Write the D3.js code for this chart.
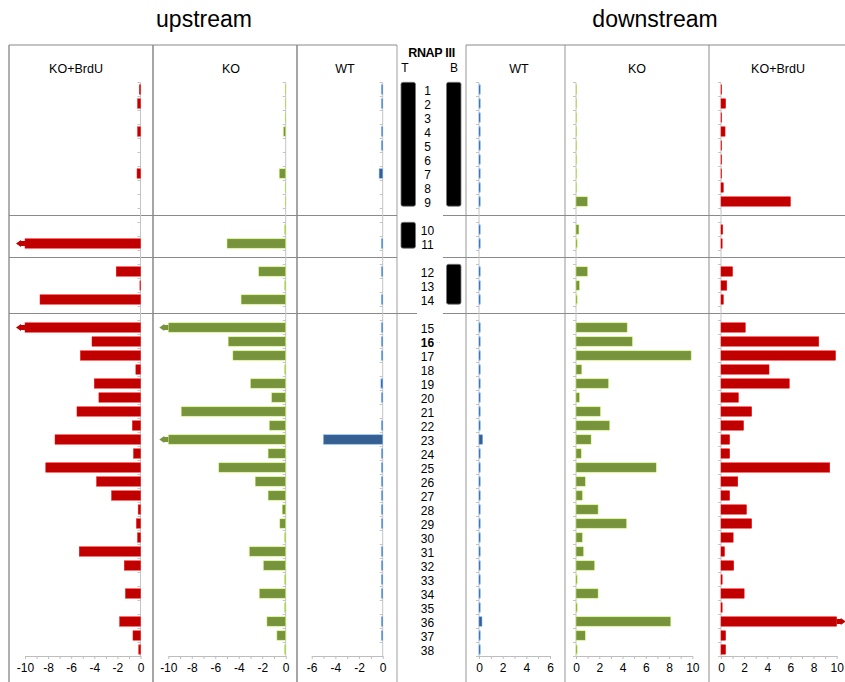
<!DOCTYPE html>
<html>
<head>
<meta charset="utf-8">
<script src="https://cdn.jsdelivr.net/npm/d3@7"></script>
<style>
  body { margin: 0; background: #fff; }
  svg { font-family: "Liberation Sans", Arial, sans-serif; }
</style>
</head>
<body>
<svg id="chart" width="845" height="682"></svg>
<script>
// row categories (with empty slots between the groups)
var rowKeys = ["1","2","3","4","5","6","7","8","9","g1","10","11","g2","12","13","14","g3",
  "15","16","17","18","19","20","21","22","23","24","25","26","27","28","29","30",
  "31","32","33","34","35","36","37","38"];
var rows = rowKeys.filter(function(k) { return k[0] != "g"; });

// values per row 1..38 (|value| > axis max means clipped bar with arrow)
var upKOBrdU = [-0.1,-0.25,0,-0.25,0,0,-0.3,0,0, 0,-11, -2.1,-0.05,-8.7,
  -11,-4.2,-5.2,-0.4,-4.0,-3.6,-5.5,-0.7,-7.4,-0.6,-8.2,-3.8,-2.5,-0.2,-0.35,-0.25,
  -5.3,-1.4,0,-1.3,0,-1.8,-0.65,-0.15];
var upKO = [-0.05,-0.05,-0.05,-0.2,0,0,-0.55,-0.05,-0.05, -0.1,-5.0, -2.3,-0.1,-3.8,
  -11,-4.9,-4.5,-0.1,-3.0,-1.2,-8.9,-1.4,-11,-1.5,-5.7,-2.6,-1.5,-0.3,-0.5,-0.1,
  -3.1,-1.9,-0.1,-2.25,-0.1,-1.6,-0.75,-0.1];
var upWT = [-0.1,-0.1,0,-0.1,-0.1,0,-0.3,0,0, 0,-0.1, -0.1,0,-0.1,
  -0.1,-0.1,-0.1,0,-0.15,-0.1,0,-0.1,-5.0,-0.1,-0.1,-0.1,-0.1,-0.1,-0.1,0,
  -0.1,-0.1,-0.1,-0.1,0,-0.1,-0.1,0];
var dnWT = [0.1,0.1,0.1,0.1,0.1,0.1,0.1,0.1,0.1, 0.1,0.1, 0.1,0.1,0.1,
  0.1,0.1,0.1,0.1,0.1,0.1,0.1,0.1,0.3,0.1,0.1,0.1,0.1,0.1,0.1,0.1,
  0.1,0.1,0.1,0.1,0.1,0.25,0.1,0.1];
var dnKO = [0.05,0.05,0.05,0.05,0.05,0.05,0.05,0.05,1.0, 0.25,0.1, 1.0,0.3,0.1,
  4.4,4.85,9.9,0.5,2.8,0.3,2.1,2.9,1.3,0.45,6.9,0.8,0.55,1.9,4.35,0.55,
  0.65,1.6,0.1,1.9,0.1,8.15,0.8,0.1];
var dnKOBrdU = [0.05,0.4,0.05,0.35,0.05,0.05,0.05,0.2,6.0, 0.15,0.1, 1.0,0.5,0.2,
  2.1,8.45,9.9,4.15,5.9,1.5,2.65,1.95,0.75,0.75,9.4,1.45,0.75,2.2,2.65,1.05,
  0.3,1.1,0.1,2.0,0.1,11,0.4,0.4];

// RNAP III occupancy blocks (row ranges)
var rnapT = [["1","9"], ["10","11"]];
var rnapB = [["1","9"], ["12","14"]];

var red = "#c00000", green = "#77933c", blue = "#376092";

var panels = [
  { title: "KO+BrdU", values: upKOBrdU, color: red,   domain: [-10, 0], range: [25, 140.5],  tx: 76 },
  { title: "KO",      values: upKO,     color: green, domain: [-10, 0], range: [168.3, 285.7], tx: 231 },
  { title: "WT",      values: upWT,     color: blue,  domain: [-6, 0],  range: [311.7, 382.7], tx: 345 },
  { title: "WT",      values: dnWT,     color: blue,  domain: [0, 6],   range: [479, 550],   tx: 519 },
  { title: "KO",      values: dnKO,     color: green, domain: [0, 10],  range: [576, 692.3], tx: 637 },
  { title: "KO+BrdU", values: dnKOBrdU, color: red,   domain: [0, 10],  range: [721, 836.7], tx: 778 }
];

var svg = d3.select("#chart");

var y = d3.scaleBand()
  .domain(rowKeys)
  .range([82.5, 656.5])
  .paddingInner(0.33)
  .paddingOuter(0.165);
var axisY = 656;

// frame lines
var frame = svg.append("g").attr("class", "frame");
[[9, "#7a7a7a"], [153, "#6a6a6a"], [297, "#6a6a6a"], [397, "#b0b0b0"],
 [466, "#a8a8a8"], [565, "#a8a8a8"], [709, "#a0a0a0"]].forEach(function(v) {
  frame.append("line").attr("x1", v[0]).attr("x2", v[0]).attr("y1", 45).attr("y2", 682)
    .attr("stroke", v[1]).attr("stroke-width", 1.2);
});
[[9, 397], [466, 845]].forEach(function(s) {
  frame.append("line").attr("x1", s[0]).attr("x2", s[1]).attr("y1", 45).attr("y2", 45)
    .attr("stroke", "#8a8a8a").attr("stroke-width", 1.2);
});
// separators between row groups
[["g1", 397], ["g2", 397], ["g3", 417]].forEach(function(s) {
  var yy = y(s[0]) + y.bandwidth() / 2;
  [[9, s[1]], [443, 845]].forEach(function(seg) {
    frame.append("line").attr("x1", seg[0]).attr("x2", seg[1]).attr("y1", yy).attr("y2", yy)
      .attr("stroke", "#8a8a8a").attr("stroke-width", 1.2);
  });
});

// titles
svg.append("text").attr("x", 204).attr("y", 27).attr("text-anchor", "middle")
  .style("font-size", "23px").text("upstream");
svg.append("text").attr("x", 655).attr("y", 27).attr("text-anchor", "middle")
  .style("font-size", "23px").text("downstream");

// panels
panels.forEach(function(p) {
  var x = d3.scaleLinear().domain(p.domain).range(p.range);
  var g = svg.append("g");
  var lo = p.domain[0], hi = p.domain[1];

  g.append("text").attr("x", p.tx).attr("y", 73).attr("text-anchor", "middle")
    .style("font-size", "12.5px").text(p.title);

  // zero axis with ticks at slot boundaries
  var x0 = x(0);
  g.append("line").attr("x1", x0).attr("x2", x0).attr("y1", y.range()[0]).attr("y2", axisY)
    .attr("stroke", "#c4c4c4").attr("stroke-width", 1);
  g.selectAll(".yt").data(rowKeys.concat(["end"])).enter().append("line")
    .attr("x1", x0 - 3).attr("x2", x0)
    .attr("y1", function(d, i) { return y.range()[0] + i * y.step(); })
    .attr("y2", function(d, i) { return y.range()[0] + i * y.step(); })
    .attr("stroke", "#c4c4c4");

  // bars
  var data = rows.map(function(r, i) { return { row: r, v: p.values[i] }; });
  g.selectAll("rect.bar").data(data).enter().append("rect")
    .attr("class", "bar")
    .attr("x", function(d) { return Math.min(x(0), x(Math.max(lo, Math.min(hi, d.v)))); })
    .attr("width", function(d) { return Math.abs(x(Math.max(lo, Math.min(hi, d.v))) - x(0)); })
    .attr("y", function(d) { return y(d.row); })
    .attr("height", y.bandwidth())
    .attr("fill", p.color)
    .attr("stroke", d3.color(p.color).brighter(1.6))
    .attr("stroke-width", 0.5);

  // arrows for clipped bars
  g.selectAll("path.arrow").data(data.filter(function(d) { return d.v < lo || d.v > hi; }))
    .enter().append("path")
    .attr("fill", p.color)
    .attr("d", function(d) {
      var s = d.v < lo ? -1 : 1;
      var xe = x(d.v < lo ? lo : hi);
      var yc = y(d.row) + y.bandwidth() / 2;
      return "M" + xe + "," + (yc - 2.5) + "L" + (xe + s * 4) + "," + (yc - 2.5) +
        "L" + (xe + s * 4) + "," + (yc - 3.5) + "L" + (xe + s * 9) + "," + yc +
        "L" + (xe + s * 4) + "," + (yc + 3.5) + "L" + (xe + s * 4) + "," + (yc + 2.5) +
        "L" + xe + "," + (yc + 2.5) + "Z";
    });

  // x axis
  var axis = d3.axisBottom(x)
    .tickValues(d3.range(lo, hi + 1, 1))
    .tickSize(3)
    .tickSizeOuter(0)
    .tickFormat(function(d) { return d % 2 === 0 ? String(d) : ""; });
  var ax = g.append("g").attr("transform", "translate(0," + axisY + ")").call(axis);
  ax.select(".domain").attr("stroke", "#bdbdbd");
  ax.selectAll(".tick line").attr("stroke", "#bdbdbd");
  ax.selectAll(".tick text").attr("fill", "#000").attr("dy", "0")
    .attr("y", 16).style("font-size", "12px")
    .style("font-family", "'Liberation Sans', Arial, sans-serif");
});

// RNAP III column
svg.append("text").attr("x", 431.5).attr("y", 57).attr("text-anchor", "middle")
  .style("font-size", "12.5px").style("font-weight", "bold").style("letter-spacing", "-0.3px")
  .text("RNAP III");
svg.append("text").attr("x", 405).attr("y", 72).attr("text-anchor", "middle")
  .style("font-size", "12px").text("T");
svg.append("text").attr("x", 454).attr("y", 72).attr("text-anchor", "middle")
  .style("font-size", "12px").text("B");

function drawBlocks(list, x1, x2) {
  svg.append("g").selectAll("rect").data(list).enter().append("rect")
    .attr("x", x1).attr("width", x2 - x1)
    .attr("y", function(d) { return y(d[0]) - 2.5; })
    .attr("height", function(d) { return y(d[1]) + y.bandwidth() - y(d[0]) + 2.5; })
    .attr("rx", 2).attr("fill", "#000").attr("stroke", "#777").attr("stroke-width", 0.8);
}
drawBlocks(rnapT, 401, 415.5);
drawBlocks(rnapB, 446.5, 461);

svg.append("g").selectAll("text").data(rows).enter().append("text")
  .attr("x", 427.5)
  .attr("y", function(d) { return y(d) + y.bandwidth() / 2 + 1; })
  .attr("dy", "0.35em")
  .attr("text-anchor", "middle")
  .style("font-size", "12px")
  .style("font-weight", function(d) { return d == "16" ? "bold" : "normal"; })
  .text(function(d) { return d; });
svg.append("text").attr("x", 436).attr("y", y("16") + y.bandwidth() / 2 + 1)
  .attr("dy", "0.35em").style("font-size", "7px").attr("fill", "#aaa").text("··");
</script>
</body>
</html>
